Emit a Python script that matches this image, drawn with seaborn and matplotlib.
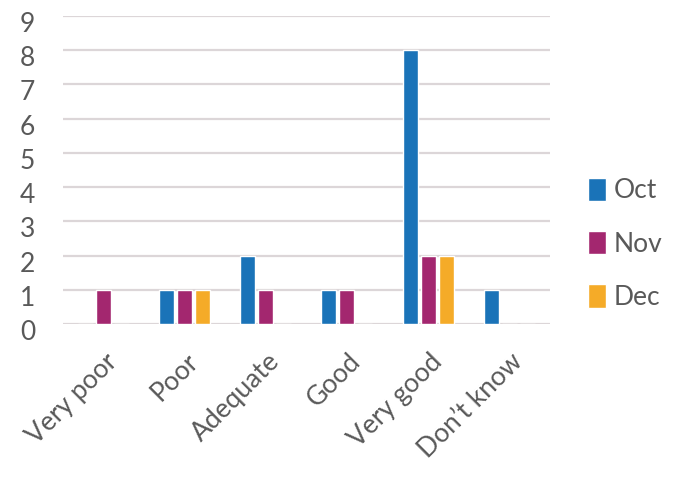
import matplotlib
matplotlib.use("Agg")
import matplotlib.pyplot as plt
import matplotlib.transforms as mtransforms
import seaborn as sns
import pandas as pd

categories = ["Very poor", "Poor", "Adequate", "Good", "Very good", "Don\u2019t know"]
months = ["Oct", "Nov", "Dec"]
oct_counts = [0, 1, 2, 1, 8, 1]
nov_counts = [1, 1, 1, 1, 2, 0]
dec_counts = [0, 1, 0, 0, 2, 0]
y_ticks = list(range(0, 10))

colors = {"Oct": "#1a73b8", "Nov": "#a3276f", "Dec": "#f5ab28"}
text_color = "#595959"
grid_color = "#dcd6d8"
fsize = 19

sns.set_theme(style="white")
plt.rcParams["font.family"] = ["Lato", "DejaVu Sans"]

df = pd.DataFrame({
    "category": categories * 3,
    "month": ["Oct"] * 6 + ["Nov"] * 6 + ["Dec"] * 6,
    "count": oct_counts + nov_counts + dec_counts,
})

fig = plt.figure(figsize=(6.83, 4.78), dpi=100)
ax = fig.add_axes([0.0922, 0.3222, 0.7128, 0.6443])

sns.barplot(data=df, x="category", y="count", hue="month", order=categories,
            hue_order=months, palette=colors, width=0.667, gap=0.17,
            saturation=1, ax=ax, legend=True)

ax.set_ylim(0, 9)
ax.set_xlim(-0.5, 5.5)
ax.set_yticks(y_ticks)
ax.set_yticklabels([str(v) for v in y_ticks])
for v in y_ticks:
    ax.axhline(v, color=grid_color, lw=1.6, zorder=0)
ax.set_axisbelow(True)
for s in ax.spines.values():
    s.set_visible(False)

ax.set_xlabel("")
ax.set_ylabel("")
ax.tick_params(axis="y", length=0, pad=20, labelsize=fsize, labelcolor=text_color)
ax.tick_params(axis="x", length=0, pad=18, labelsize=fsize, labelcolor=text_color)

shift = mtransforms.ScaledTranslation(0, -6 / 100, fig.dpi_scale_trans)
for lbl in ax.get_yticklabels():
    lbl.set_transform(lbl.get_transform() + shift)

xshift = mtransforms.ScaledTranslation(1 / 100, 0, fig.dpi_scale_trans)
for lbl in ax.get_xticklabels():
    lbl.set_rotation(45)
    lbl.set_ha("right")
    lbl.set_va("top")
    lbl.set_rotation_mode("anchor")
    lbl.set_transform(lbl.get_transform() + xshift)

handles, labels = ax.get_legend_handles_labels()
ax.legend(handles, labels, loc="center left", bbox_to_anchor=(1.03, 0.26),
          frameon=False, fontsize=fsize, labelcolor=text_color,
          handlelength=0.68, handleheight=0.97, handletextpad=0.3,
          labelspacing=1.05)

fig.savefig("out.png", dpi=100)
